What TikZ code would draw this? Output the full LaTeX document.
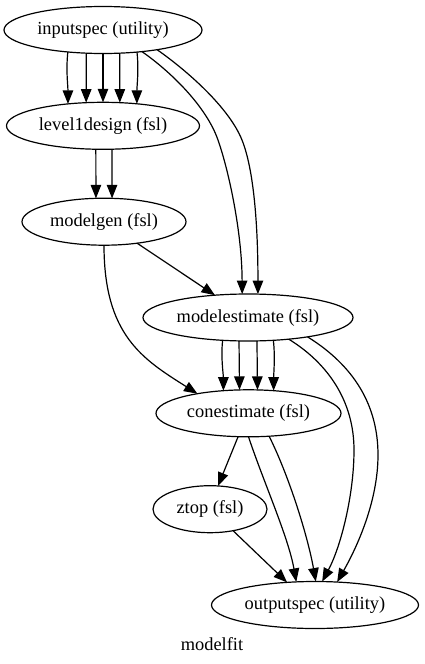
\documentclass[tikz,border=0pt]{standalone}
\usepackage{fontspec}
\setmainfont{Liberation Serif}
\usetikzlibrary{shapes.geometric,arrows.meta}
\begin{document}
\begin{tikzpicture}[x=1pt,y=1pt,
  nd/.style={ellipse,draw,line width=1.2pt,inner sep=0pt,outer sep=0pt,minimum height=47pt,font=\fontsize{18.4}{22}\selectfont},
  ed/.style={line width=1.2pt,-{Triangle[length=13.5pt,width=10.5pt]}}]
\useasboundingbox (0,0) rectangle (424,-664);
\node[nd,minimum width=198pt] (IS) at (103,-30) {inputspec (utility)};
\node[nd,minimum width=193pt] (L1) at (103,-125.8) {level1design (fsl)};
\node[nd,minimum width=164pt] (MG) at (104,-221.7) {modelgen (fsl)};
\node[nd,minimum width=210pt] (ME) at (248,-317.5) {modelestimate (fsl)};
\node[nd,minimum width=185pt] (CE) at (248.5,-413.3) {conestimate (fsl)};
\node[nd,minimum width=114pt] (ZT) at (210,-509.2) {ztop (fsl)};
\node[nd,minimum width=207pt] (OS) at (315,-605) {outputspec (utility)};
\node[font=\fontsize{18.4}{22}\selectfont,anchor=base,inner sep=0pt] (lbl) at (212,-650) {modelfit};
% inputspec -> level1design
\draw[ed] (IS.212) .. controls +(-2,-18) and +(0,18) .. (L1.148);
\draw[ed] (IS.234) -- (L1.126);
\draw[ed] (IS.270) -- (L1.90);
\draw[ed] (IS.306) -- (L1.54);
\draw[ed] (IS.327) .. controls +(2,-18) and +(0,18) .. (L1.33);
% inputspec -> modelestimate
\draw[ed] (IS.331) .. controls +(30,-21) and (206.5,-107) .. (218,-140) .. controls (229.5,-173) and (242,-234) .. (ME.104);
\draw[ed] (IS.340) .. controls +(30,-21) and (229,-107.5) .. (242,-140) .. controls (255,-172.5) and (258,-234) .. (ME.67);
% level1design -> modelgen
\draw[ed] (L1.253) -- (MG.109);
\draw[ed] (L1.291) -- (MG.71);
% modelgen -> modelestimate / conestimate
\draw[ed] (MG.327) -- (ME.146);
\draw[ed] (MG.270) .. controls +(0,-90) and (142.75,-359.15) .. (CE.159);
% modelestimate -> conestimate
\draw[ed] (ME.222) .. controls +(-2,-16) and +(0,16) .. (CE.138);
\draw[ed] (ME.249) -- (CE.111);
\draw[ed] (ME.291) -- (CE.69);
\draw[ed] (ME.318) .. controls +(2,-16) and +(0,16) .. (CE.42);
% modelestimate -> outputspec
\draw[ed] (ME.332) .. controls (326.7,-362.5) and (354,-400) .. (354,-450) .. controls (354,-495) and (340.8,-546.8) .. (OS.73);
\draw[ed] (ME.342) .. controls (353.75,-365.6) and (378,-405) .. (378,-455) .. controls (378,-500) and (358.2,-545) .. (OS.46);
% conestimate -> ztop / outputspec
\draw[ed] (CE.246) -- (ZT.71);
\draw[ed] (CE.270) .. controls +(15,-45) and +(-8,45) .. (OS.129);
\draw[ed] (CE.312) .. controls +(20,-40) and +(-8,45) .. (OS.88);
% ztop -> outputspec
\draw[ed] (ZT.317) -- (OS.141);
\end{tikzpicture}
\end{document}
